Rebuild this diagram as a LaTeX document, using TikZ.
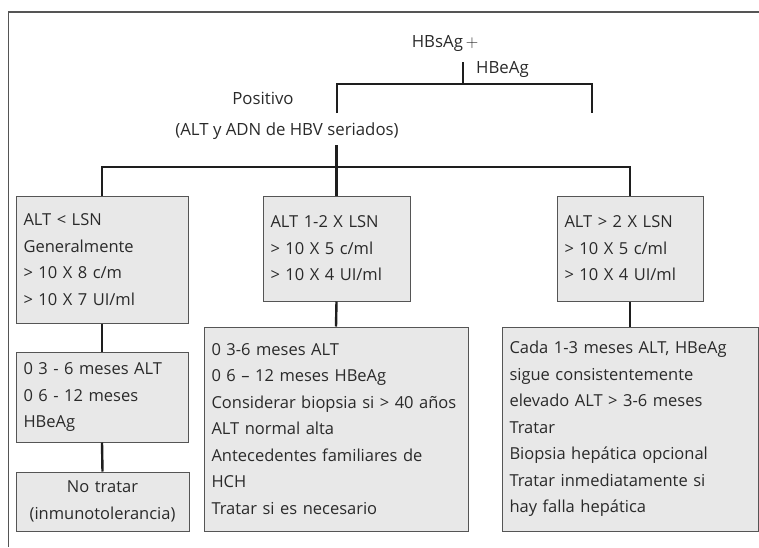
\documentclass[tikz,border=0pt]{standalone}
\usepackage{fontspec}
\setmainfont{Open Sans}
\usetikzlibrary{positioning}
\definecolor{hbvfill}{HTML}{E8E8E8}
\definecolor{hbvedge}{HTML}{555555}
\definecolor{hbvline}{HTML}{1E1E1E}
\definecolor{hbvtext}{HTML}{2A2A2A}

\begin{document}
\begin{tikzpicture}[x=1pt, y=-1pt,
  box/.style={draw=hbvedge, line width=1pt, fill=hbvfill, text=hbvtext,
    inner xsep=7.5pt, inner ysep=0pt, align=left,
    font=\fontsize{16.5}{26.5}\selectfont},
  conn/.style={hbvline, line width=2.4pt},
  lbl/.style={text=hbvtext, inner sep=0pt, font=\fontsize{16.8}{20}\selectfont}]
  \useasboundingbox (0,0) rectangle (759,547);
  % frame (top and left edge only)
  \draw[hbvedge, line width=1.3pt] (8.5,547) -- (8.5,12) -- (759,12);
  % head of the tree
  \node[lbl] (hbsag) at (445,43) {HBsAg\,$+$};
  \node[lbl, anchor=west] (hbeag) at (476,69) {HBeAg};
  \node[lbl] (positivo) at (263,98) {Positivo};
  \node[lbl] (seriados) at (287,131) {(ALT y ADN de HBV seriados)};
  \coordinate (t0) at (463,62);
  \coordinate (t1l) at (337,113);
  \coordinate (t1r) at (592,113);
  \draw[conn] (t0) -- ++(0,22);
  \draw[conn] (t1l) -- ++(0,-29) -| (t1r);
  % first row of boxes
  \node[box, minimum width=172, minimum height=127, text width=157] (b1) at (102,259.5)
    {ALT < LSN\\ Generalmente\\ > 10 X 8 c/m\\ > 10 X 7 UI/ml};
  \node[box, minimum width=147, minimum height=105, text width=132] (b2) at (336.5,248.5)
    {\mbox{ALT 1-2 X LSN}\\ > 10 X 5 c/ml\\ \mbox{> 10 X 4 UI/ml}};
  \node[box, minimum width=146, minimum height=105, text width=131] (b3) at (630,248.5)
    {\mbox{ALT > 2 X LSN}\\ > 10 X 5 c/ml\\ \mbox{> 10 X 4 UI/ml}};
  \coordinate (t2) at (336.5,145);
  \coordinate (bar) at (336.5,167);
  \draw[conn] (t2) -- (b2.north);
  \draw[conn] (b1.north) |- (bar) -| (b3.north);
  % left column
  \node[box, minimum width=172, minimum height=90, text width=157] (b1b) at (102,397)
    {\mbox{0 3 - 6 meses ALT}\\ 0 6 - 12 meses\\ HBeAg};
  \node[box, minimum width=173, minimum height=59, text width=158, align=center] (b1c) at (102.5,501.5)
    {No tratar\\ (inmunotolerancia)};
  \draw[conn] (b1.south) -- (b1b.north);
  \draw[conn] (b1b.south) -- (b1c.north);
  % middle and right columns
  \node[box, minimum width=264, minimum height=204, text width=249] (b2b) at (336,429)
    {0 3-6 meses ALT\\ 0 6 -- 12 meses HBeAg\\ \mbox{Considerar biopsia si > 40 años}\\
     ALT normal alta\\ \mbox{Antecedentes familiares de}\\ HCH\\ Tratar si es necesario};
  \node[box, minimum width=256, minimum height=204, text width=241] (b3b) at (630,429)
    {\mbox{Cada 1-3 meses ALT, HBeAg}\\ sigue consistentemente\\ \mbox{elevado ALT > 3-6 meses}\\
     Tratar\\ \mbox{Biopsia hepática opcional}\\ \mbox{Tratar inmediatamente si}\\ hay falla hepática};
  \draw[conn] (b2.south) -- (b2b.north);
  \draw[conn] (b3.south) -- (b3b.north);
\end{tikzpicture}
\end{document}
